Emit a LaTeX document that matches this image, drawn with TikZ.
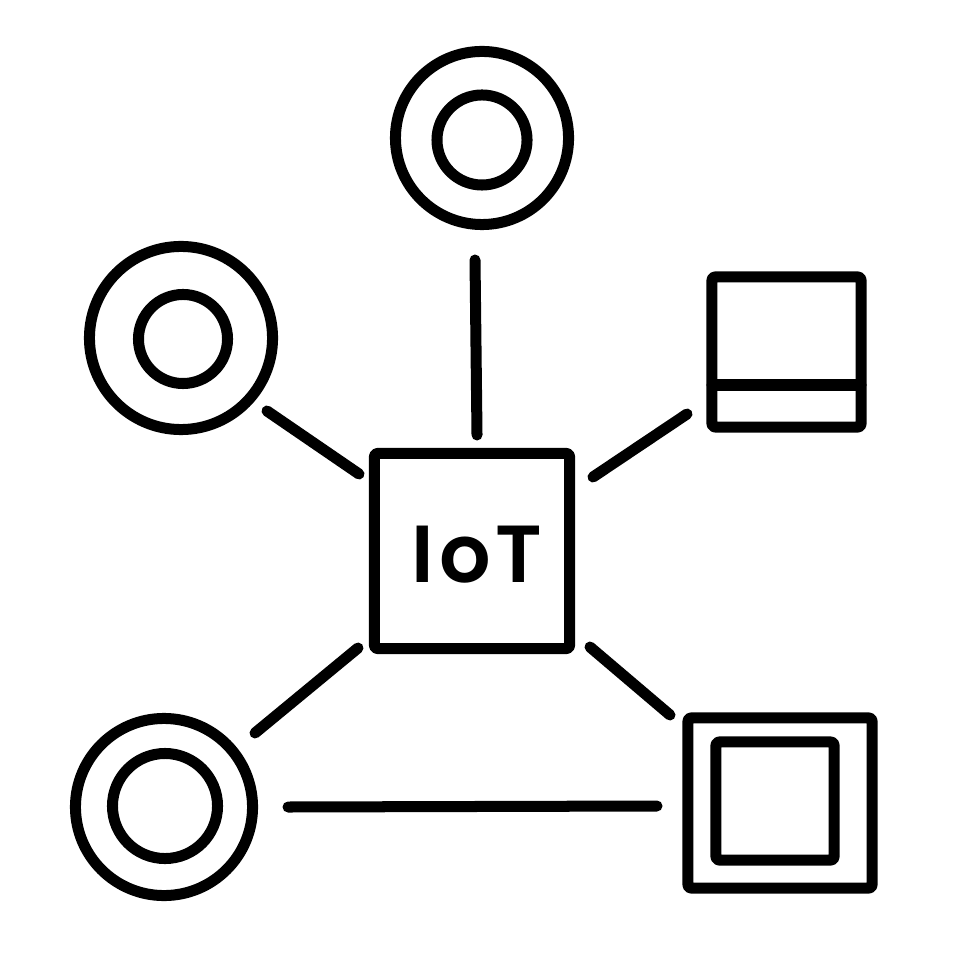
\documentclass[tikz,border=0pt]{standalone}
\usepackage{fontspec}
\setmainfont{Poppins}
\newfontfamily\iotfont{Poppins}[UprightFont=* SemiBold,LetterSpace=6]
\begin{document}
\begin{tikzpicture}[x=0.01cm,y=-0.01cm,
  stroke/.style={line width=0.11cm,line cap=round,line join=round},
  ring/.style={stroke,draw,circle,inner sep=0pt,outer sep=0pt},
  boxnode/.style={stroke,draw,rectangle,inner sep=0pt,outer sep=0pt,rounded corners=0.03cm},
  link/.style={stroke,draw}]
\useasboundingbox[fill=white] (0,0) rectangle (980,980);
% hub
\node[boxnode,minimum width=1.95cm,minimum height=1.95cm] (hub) at (472,551) {};
\node[font=\iotfont\fontsize{23}{23}\selectfont] (label) at (477,555) {IoT};
% top device
\node[ring,minimum size=1.73cm] (topo) at (482,138) {};
\node[ring,minimum size=0.90cm] (topi) at (482,140) {};
% left device
\node[ring,minimum size=1.83cm] (lefto) at (181,338) {};
\node[ring,minimum size=0.89cm] (lefti) at (183,339) {};
% bottom-left device
\node[ring,minimum size=1.77cm] (blo) at (164,807) {};
\node[ring,minimum size=1.05cm] (bli) at (165,806) {};
% top-right device (screen)
\node[boxnode,minimum width=1.49cm,minimum height=1.50cm] (tr) at (786.5,352) {};
\draw[link] (tr.west |- 0,385) -- (tr.east |- 0,385);
% bottom-right device (double square)
\node[boxnode,minimum width=1.84cm,minimum height=1.70cm] (bro) at (780,803) {};
\node[boxnode,minimum width=1.18cm,minimum height=1.18cm] (bri) at (775,801) {};
% connector ends
\coordinate (t1) at (475,260); \coordinate (t2) at (477,435);
\coordinate (l1) at (267,411); \coordinate (l2) at (359,474);
\coordinate (r1) at (687,414); \coordinate (r2) at (593,477);
\coordinate (bl1) at (358,648); \coordinate (bl2) at (255,733);
\coordinate (br1) at (590,647); \coordinate (br2) at (670,715);
\coordinate (h1) at (288,807); \coordinate (h2) at (657,806);
\draw[link] (t1) -- (t2);
\draw[link] (l1) -- (l2);
\draw[link] (r1) -- (r2);
\draw[link] (bl1) -- (bl2);
\draw[link] (br1) -- (br2);
\draw[link] (h1) -- (h2);
\end{tikzpicture}
\end{document}
